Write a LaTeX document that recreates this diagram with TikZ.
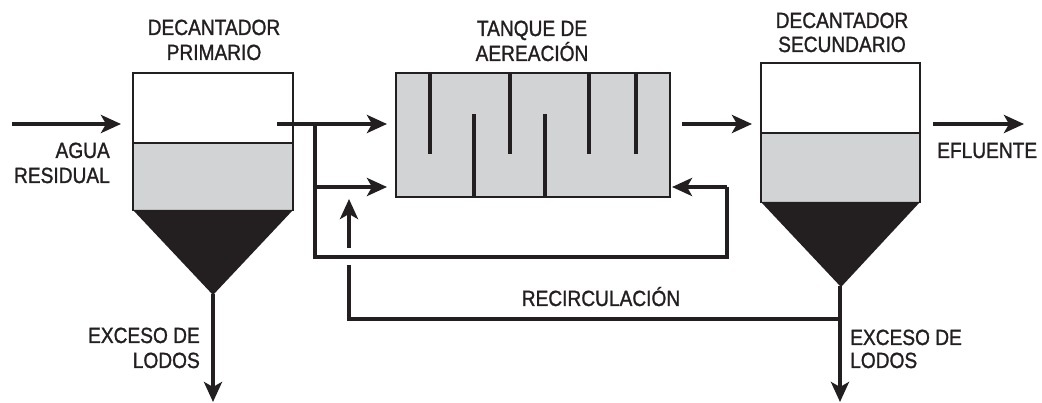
\documentclass[tikz,border=0pt]{standalone}
\usepackage{fontspec}
\setmainfont{Liberation Sans}[FakeStretch=0.87,FakeBold=1.2]
\usetikzlibrary{arrows.meta}
\definecolor{ink}{HTML}{231F20}
\definecolor{fillgray}{HTML}{D1D3D4}
\begin{document}
\begin{tikzpicture}[x=1pt,y=-1pt,
  pipe/.style={draw=ink,line width=4pt},
  flow/.style={pipe,-{Stealth[length=20pt,width=18pt,inset=5pt]}},
  wall/.style={draw=ink,line width=2.5pt},
  baffle/.style={draw=ink,line width=4.5pt},
  lbl/.style={font=\fontsize{22}{24}\selectfont,text=ink,inner sep=0pt}]
\useasboundingbox (0,0) rectangle (1042,403);

% ---- primary decanter
\fill[fillgray] (133,143) rectangle (293,210);
\fill[ink] (133,210) -- (293,210) -- (213,295) -- cycle;
\draw[wall] (133,211) -- (133,73) -- (293,73) -- (293,211);
\draw[wall] (133,143) -- (293,143);
\coordinate (priApex) at (213,294);

% ---- aeration tank
\node[draw=ink,line width=2pt,fill=fillgray,minimum width=274pt,minimum height=124pt,inner sep=0pt] (aer) at (533,135) {};
\foreach \x in {430,510,589,636} \draw[baffle] (\x,74) -- (\x,154);
\foreach \x in {474,545} \draw[baffle] (\x,114) -- (\x,196);

% ---- secondary decanter
\fill[fillgray] (761,133) rectangle (920,202);
\fill[ink] (761,202) -- (920,202) -- (841,287) -- cycle;
\draw[wall] (761,203) -- (761,63) -- (920,63) -- (920,203);
\draw[wall] (761,133) -- (920,133);
\coordinate (secApex) at (840,286);

% ---- connection points
\coordinate (inStart) at (12,124);
\coordinate (inEnd) at (121,124);
\coordinate (priOut) at (277,124);
\coordinate (aerIn1) at (387,124);
\coordinate (aerIn2) at (387,187);
\coordinate (jTop) at (315,124);
\coordinate (jMid) at (315,187);
\coordinate (jBot) at (315,257);
\coordinate (loopR) at (727,257);
\coordinate (loopRt) at (727,187);
\coordinate (aerBack) at (672,187);
\coordinate (aerOut) at (682,124);
\coordinate (secIn) at (752,124);
\coordinate (effStart) at (933,124);
\coordinate (effEnd) at (1024,124);
\coordinate (recJ) at (840,319);
\coordinate (recC) at (349,319);
\coordinate (recGapLo) at (349,265);
\coordinate (recGapHi) at (349,248);
\coordinate (recTip) at (349,199);
\coordinate (priDown) at (213,402);
\coordinate (secDown) at (840,402);

% ---- connectors
\draw[flow] (inStart) -- (inEnd);
\draw[flow] (priOut) -- (aerIn1);
\draw[pipe] (jTop) -- (jBot) -- (loopR) -- (loopRt);
\draw[flow] (loopRt) -- (aerBack);
\draw[flow] (jMid) -- (aerIn2);
\draw[flow] (aerOut) -- (secIn);
\draw[flow] (effStart) -- (effEnd);
\draw[pipe] (recJ) -- (recC) -- (recGapLo);
\draw[flow] (recGapHi) -- (recTip);
\draw[flow] (priApex) -- (priDown);
\draw[flow] (secApex) -- (secDown);

% ---- labels
\node[lbl,anchor=base] (t1a) at (214,35) {DECANTADOR};
\node[lbl,anchor=base] (t1b) at (214,60) {PRIMARIO};
\node[lbl,anchor=base] (t2a) at (532,36) {TANQUE DE};
\node[lbl,anchor=base] (t2b) at (532,61) {AEREACIÓN};
\node[lbl,anchor=base] (t3a) at (842,28) {DECANTADOR};
\node[lbl,anchor=base] (t3b) at (842,52) {SECUNDARIO};
\node[lbl,anchor=base east] (agua) at (110,158) {AGUA};
\node[lbl,anchor=base east] (resid) at (110,183) {RESIDUAL};
\node[lbl,anchor=base west] (eflu) at (937,158) {EFLUENTE};
\node[lbl,anchor=base] (recirc) at (601,306) {RECIRCULACIÓN};
\node[lbl,anchor=base east] (exc1a) at (200,343) {EXCESO DE};
\node[lbl,anchor=base east] (exc1b) at (200,368) {LODOS};
\node[lbl,anchor=base west] (exc2a) at (850,345) {EXCESO DE};
\node[lbl,anchor=base west] (exc2b) at (850,368) {LODOS};
\end{tikzpicture}
\end{document}
